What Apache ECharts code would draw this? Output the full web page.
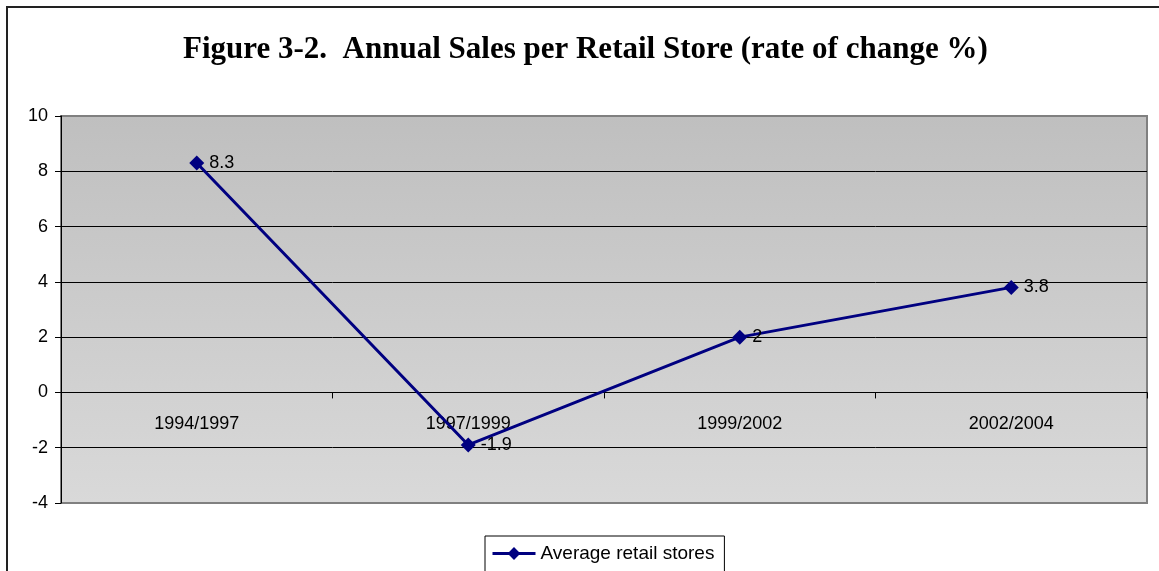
<!DOCTYPE html>
<html>
<head>
<meta charset="utf-8">
<style>
  html, body { margin: 0; padding: 0; background: #ffffff; }
  #chart { width: 1159px; height: 571px; }
</style>
<script src="https://cdn.jsdelivr.net/npm/echarts@6/dist/echarts.min.js"></script>
</head>
<body>
<div id="chart"></div>
<script>
// Periods and rate of change of annual sales per retail store (%)
const periods = ['1994/1997', '1997/1999', '1999/2002', '2002/2004'];
const avgRetailStores = [8.3, -1.9, 2, 3.8];
const seriesName = 'Average retail stores';
const yTicks = { min: -4, max: 10, step: 2 };

const FONT = 'Arial, "Liberation Sans", sans-serif';

const chart = echarts.init(document.getElementById('chart'), null, { renderer: 'canvas' });

chart.setOption({
  backgroundColor: '#ffffff',
  animation: false,
  title: {
    text: 'Figure 3-2.  Annual Sales per Retail Store (rate of change %)',
    left: 183,
    top: 34,
    padding: 0,
    textStyle: {
      fontFamily: '"Liberation Serif", "Times New Roman", serif',
      fontWeight: 'bold',
      fontSize: 31,
      color: '#000000'
    }
  },
  graphic: [{
    type: 'rect',
    z: 100,
    silent: true,
    shape: { x: 7, y: 7, width: 1200, height: 600 },
    style: { fill: 'none', stroke: '#222222', lineWidth: 2 }
  }],
  legend: {
    data: [seriesName],
    left: 485,
    top: 536,
    padding: [8, 10, 12, 6],
    itemWidth: 43,
    itemHeight: 16,
    borderColor: '#000000',
    borderWidth: 1,
    backgroundColor: '#ffffff',
    lineStyle: { width: 3 },
    textStyle: { fontFamily: FONT, fontSize: 19, color: '#000000' }
  },
  grid: {
    left: 61,
    top: 116,
    width: 1086,
    height: 387,
    show: true,
    borderColor: '#808080',
    borderWidth: 2,
    backgroundColor: new echarts.graphic.LinearGradient(0, 0, 0, 1, [
      { offset: 0, color: '#bfbfbf' },
      { offset: 1, color: '#d9d9d9' }
    ])
  },
  xAxis: {
    type: 'category',
    data: periods,
    boundaryGap: true,
    axisLine: { show: true, onZero: true, lineStyle: { color: '#000000', width: 1 } },
    axisTick: { show: true, length: 6, lineStyle: { color: '#000000' } },
    // labels sit just below the zero line, inside the plot
    axisLabel: { margin: -88, color: '#000000', fontFamily: FONT, fontSize: 18 },
    splitLine: { show: false }
  },
  yAxis: {
    type: 'value',
    min: yTicks.min,
    max: yTicks.max,
    interval: yTicks.step,
    axisLine: { show: true, lineStyle: { color: '#000000', width: 1 } },
    axisTick: { show: true, length: 6, lineStyle: { color: '#000000' } },
    axisLabel: { margin: 13, color: '#000000', fontFamily: FONT, fontSize: 18 },
    splitLine: {
      show: true,
      showMinLine: false,
      showMaxLine: false,
      lineStyle: { color: '#000000', width: 1 }
    }
  },
  series: [{
    name: seriesName,
    type: 'line',
    data: avgRetailStores,
    symbol: 'diamond',
    symbolSize: 15,
    lineStyle: { color: '#000080', width: 3 },
    itemStyle: { color: '#000080' },
    label: {
      show: true,
      position: 'right',
      distance: 5,
      color: '#000000',
      fontFamily: FONT,
      fontSize: 18
    }
  }]
});
</script>
</body>
</html>
